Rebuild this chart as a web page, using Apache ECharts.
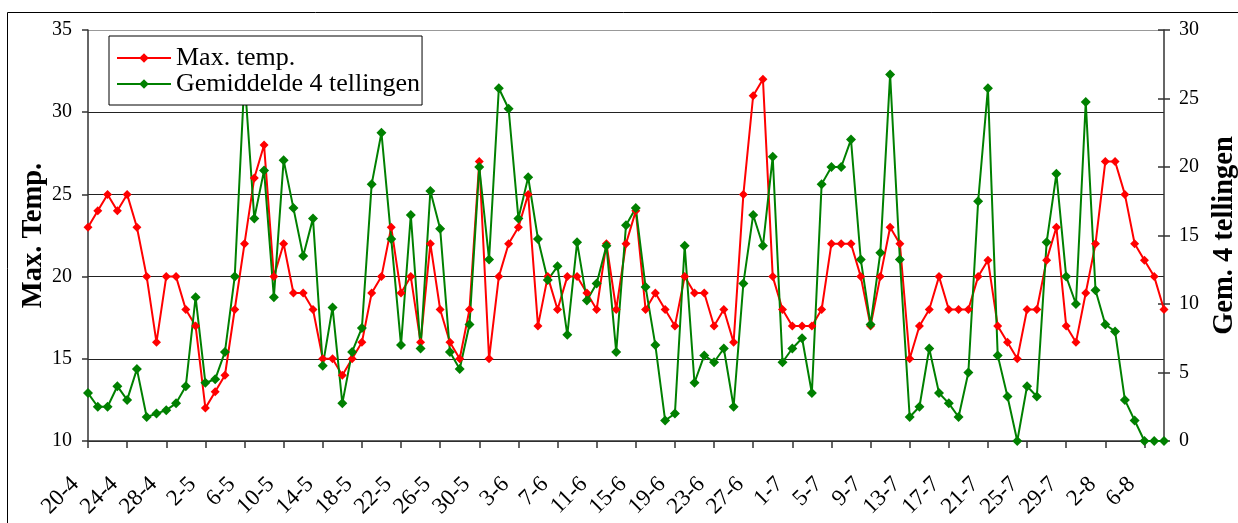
<!DOCTYPE html>
<html><head><meta charset="utf-8">
<script src="https://cdn.jsdelivr.net/npm/echarts@6/dist/echarts.min.js"></script>
<style>html,body{margin:0;padding:0;background:#fff}#c{width:1238px;height:523px}</style>
</head><body><div id="c"></div>
<script>
const categories = [
 '20-4','21-4','22-4','23-4','24-4','25-4','26-4','27-4','28-4','29-4','30-4',
 '1-5','2-5','3-5','4-5','5-5','6-5','7-5','8-5','9-5','10-5','11-5','12-5','13-5','14-5','15-5','16-5','17-5','18-5','19-5','20-5','21-5','22-5','23-5','24-5','25-5','26-5','27-5','28-5','29-5','30-5','31-5',
 '1-6','2-6','3-6','4-6','5-6','6-6','7-6','8-6','9-6','10-6','11-6','12-6','13-6','14-6','15-6','16-6','17-6','18-6','19-6','20-6','21-6','22-6','23-6','24-6','25-6','26-6','27-6','28-6','29-6','30-6',
 '1-7','2-7','3-7','4-7','5-7','6-7','7-7','8-7','9-7','10-7','11-7','12-7','13-7','14-7','15-7','16-7','17-7','18-7','19-7','20-7','21-7','22-7','23-7','24-7','25-7','26-7','27-7','28-7','29-7','30-7','31-7',
 '1-8','2-8','3-8','4-8','5-8','6-8','7-8','8-8'
];
const maxTemp = [
 23,24,25,24,25,23,20,16,20,20,18,17,12,13,14,18,22,26,28,20,
 22,19,19,18,15,15,14,15,16,19,20,23,19,20,16,22,18,16,15,18,27,15,20,22,
 23,25,17,20,18,20,20,19,18,22,18,22,24,18,19,18,17,20,19,19,17,18,16,25,
 31,32,20,18,17,17,17,18,22,22,22,20,17,20,23,22,15,17,18,20,18,18,18,
 20,21,17,16,15,18,18,21,23,17,16,19,22,27,27,25,22,21,20,18
];
const gemiddelde = [
 3.5,2.5,2.5,4,3,5.25,1.75,2,2.25,2.75,4,10.5,4.25,4.5,6.5,12,26.5,16.25,19.75,10.5,
 20.5,17,13.5,16.25,5.5,9.75,2.75,6.5,8.25,18.75,22.5,14.75,7,16.5,6.75,18.25,15.5,6.5,5.25,8.5,20,13.25,25.75,24.25,
 16.25,19.25,14.75,11.75,12.75,7.75,14.5,10.25,11.5,14.25,6.5,15.75,17,11.25,7,1.5,2,14.25,4.25,6.25,5.75,6.75,2.5,11.5,
 16.5,14.25,20.75,5.75,6.75,7.5,3.5,18.75,20,20,22,13.25,8.5,13.75,26.75,13.25,1.75,2.5,6.75,3.5,2.75,1.75,5,
 17.5,25.75,6.25,3.25,0,4,3.25,14.5,19.5,12,10,24.75,11,8.5,8,3,1.5,0,0,0
];
const seriesNames = ['Max. temp.', 'Gemiddelde 4 tellingen'];
const leftAxisName = 'Max. Temp.';
const rightAxisName = 'Gem. 4 tellingen';

const FONT = '"Liberation Serif", "Times New Roman", serif';
const chart = echarts.init(document.getElementById('c'), null, {renderer: 'canvas'});
chart.setOption({
  animation: false,
  backgroundColor: '#fff',
  textStyle: {fontFamily: FONT, color: '#000'},
  graphic: [{
    type: 'rect', z: 0, silent: true,
    shape: {x: 7.5, y: 12.5, width: 1300, height: 600},
    style: {fill: 'none', stroke: '#000', lineWidth: 1}
  }],
  grid: {left: 88, right: 74, top: 30, bottom: 82, containLabel: false, outerBoundsMode: 'none'},
  legend: {
    orient: 'vertical', left: 109, top: 36,
    padding: [9, 2, 8, 7],
    borderColor: '#000', borderWidth: 1, backgroundColor: '#fff',
    itemGap: 0, itemWidth: 54, itemHeight: 12,
    textStyle: {fontFamily: FONT, fontSize: 26, color: '#000', lineHeight: 25},
    data: seriesNames
  },
  xAxis: {
    type: 'category', data: categories, boundaryGap: false,
    axisLine: {lineStyle: {color: '#333', width: 1.5}},
    axisTick: {interval: 3, length: 7, lineStyle: {color: '#333', width: 1.5}},
    axisLabel: {interval: 3, rotate: 45, margin: 27, padding: [0, 18, 0, 0],
      fontFamily: FONT, fontSize: 23, color: '#000'},
    splitLine: {show: false}
  },
  yAxis: [{
    type: 'value', min: 10, max: 35, interval: 5, position: 'left',
    name: leftAxisName, nameLocation: 'middle', nameRotate: 90, nameGap: 40, nameMoveOverlap: false,
    nameTextStyle: {fontFamily: FONT, fontSize: 28.5, fontWeight: 'bold', color: '#000'},
    axisLine: {show: true, lineStyle: {color: '#333', width: 1.5}},
    axisTick: {show: true, length: 6, lineStyle: {color: '#333', width: 1.5}},
    axisLabel: {margin: 16, fontFamily: FONT, fontSize: 20, color: '#000'},
    splitLine: {show: true, lineStyle: {color: ['#222','#222','#222','#222','#222','#999'], width: 1}}
  }, {
    type: 'value', min: 0, max: 30, interval: 5, position: 'right',
    name: rightAxisName, nameLocation: 'middle', nameRotate: 90, nameGap: 46, nameMoveOverlap: false,
    nameTextStyle: {fontFamily: FONT, fontSize: 28.5, fontWeight: 'bold', color: '#000'},
    axisLine: {show: true, lineStyle: {color: '#333', width: 1.5}},
    axisTick: {show: true, length: 6, lineStyle: {color: '#333', width: 1.5}},
    axisLabel: {margin: 15, fontFamily: FONT, fontSize: 20, color: '#000'},
    splitLine: {show: false}
  }, {
    type: 'value', min: 0, max: 30, interval: 5, position: 'right',
    axisLine: {show: false},
    axisTick: {show: true, inside: true, length: 6, lineStyle: {color: '#333', width: 1.5}},
    axisLabel: {show: false},
    splitLine: {show: false}
  }],
  series: [{
    name: seriesNames[0], type: 'line', yAxisIndex: 0, data: maxTemp,
    symbol: 'diamond', symbolSize: 9, showAllSymbol: true,
    itemStyle: {color: '#ff0000'}, lineStyle: {color: '#ff0000', width: 2}, z: 3
  }, {
    name: seriesNames[1], type: 'line', yAxisIndex: 1, data: gemiddelde,
    symbol: 'diamond', symbolSize: 10, showAllSymbol: true,
    itemStyle: {color: '#008000'}, lineStyle: {color: '#008000', width: 2}, z: 3
  }]
});
</script></body></html>
